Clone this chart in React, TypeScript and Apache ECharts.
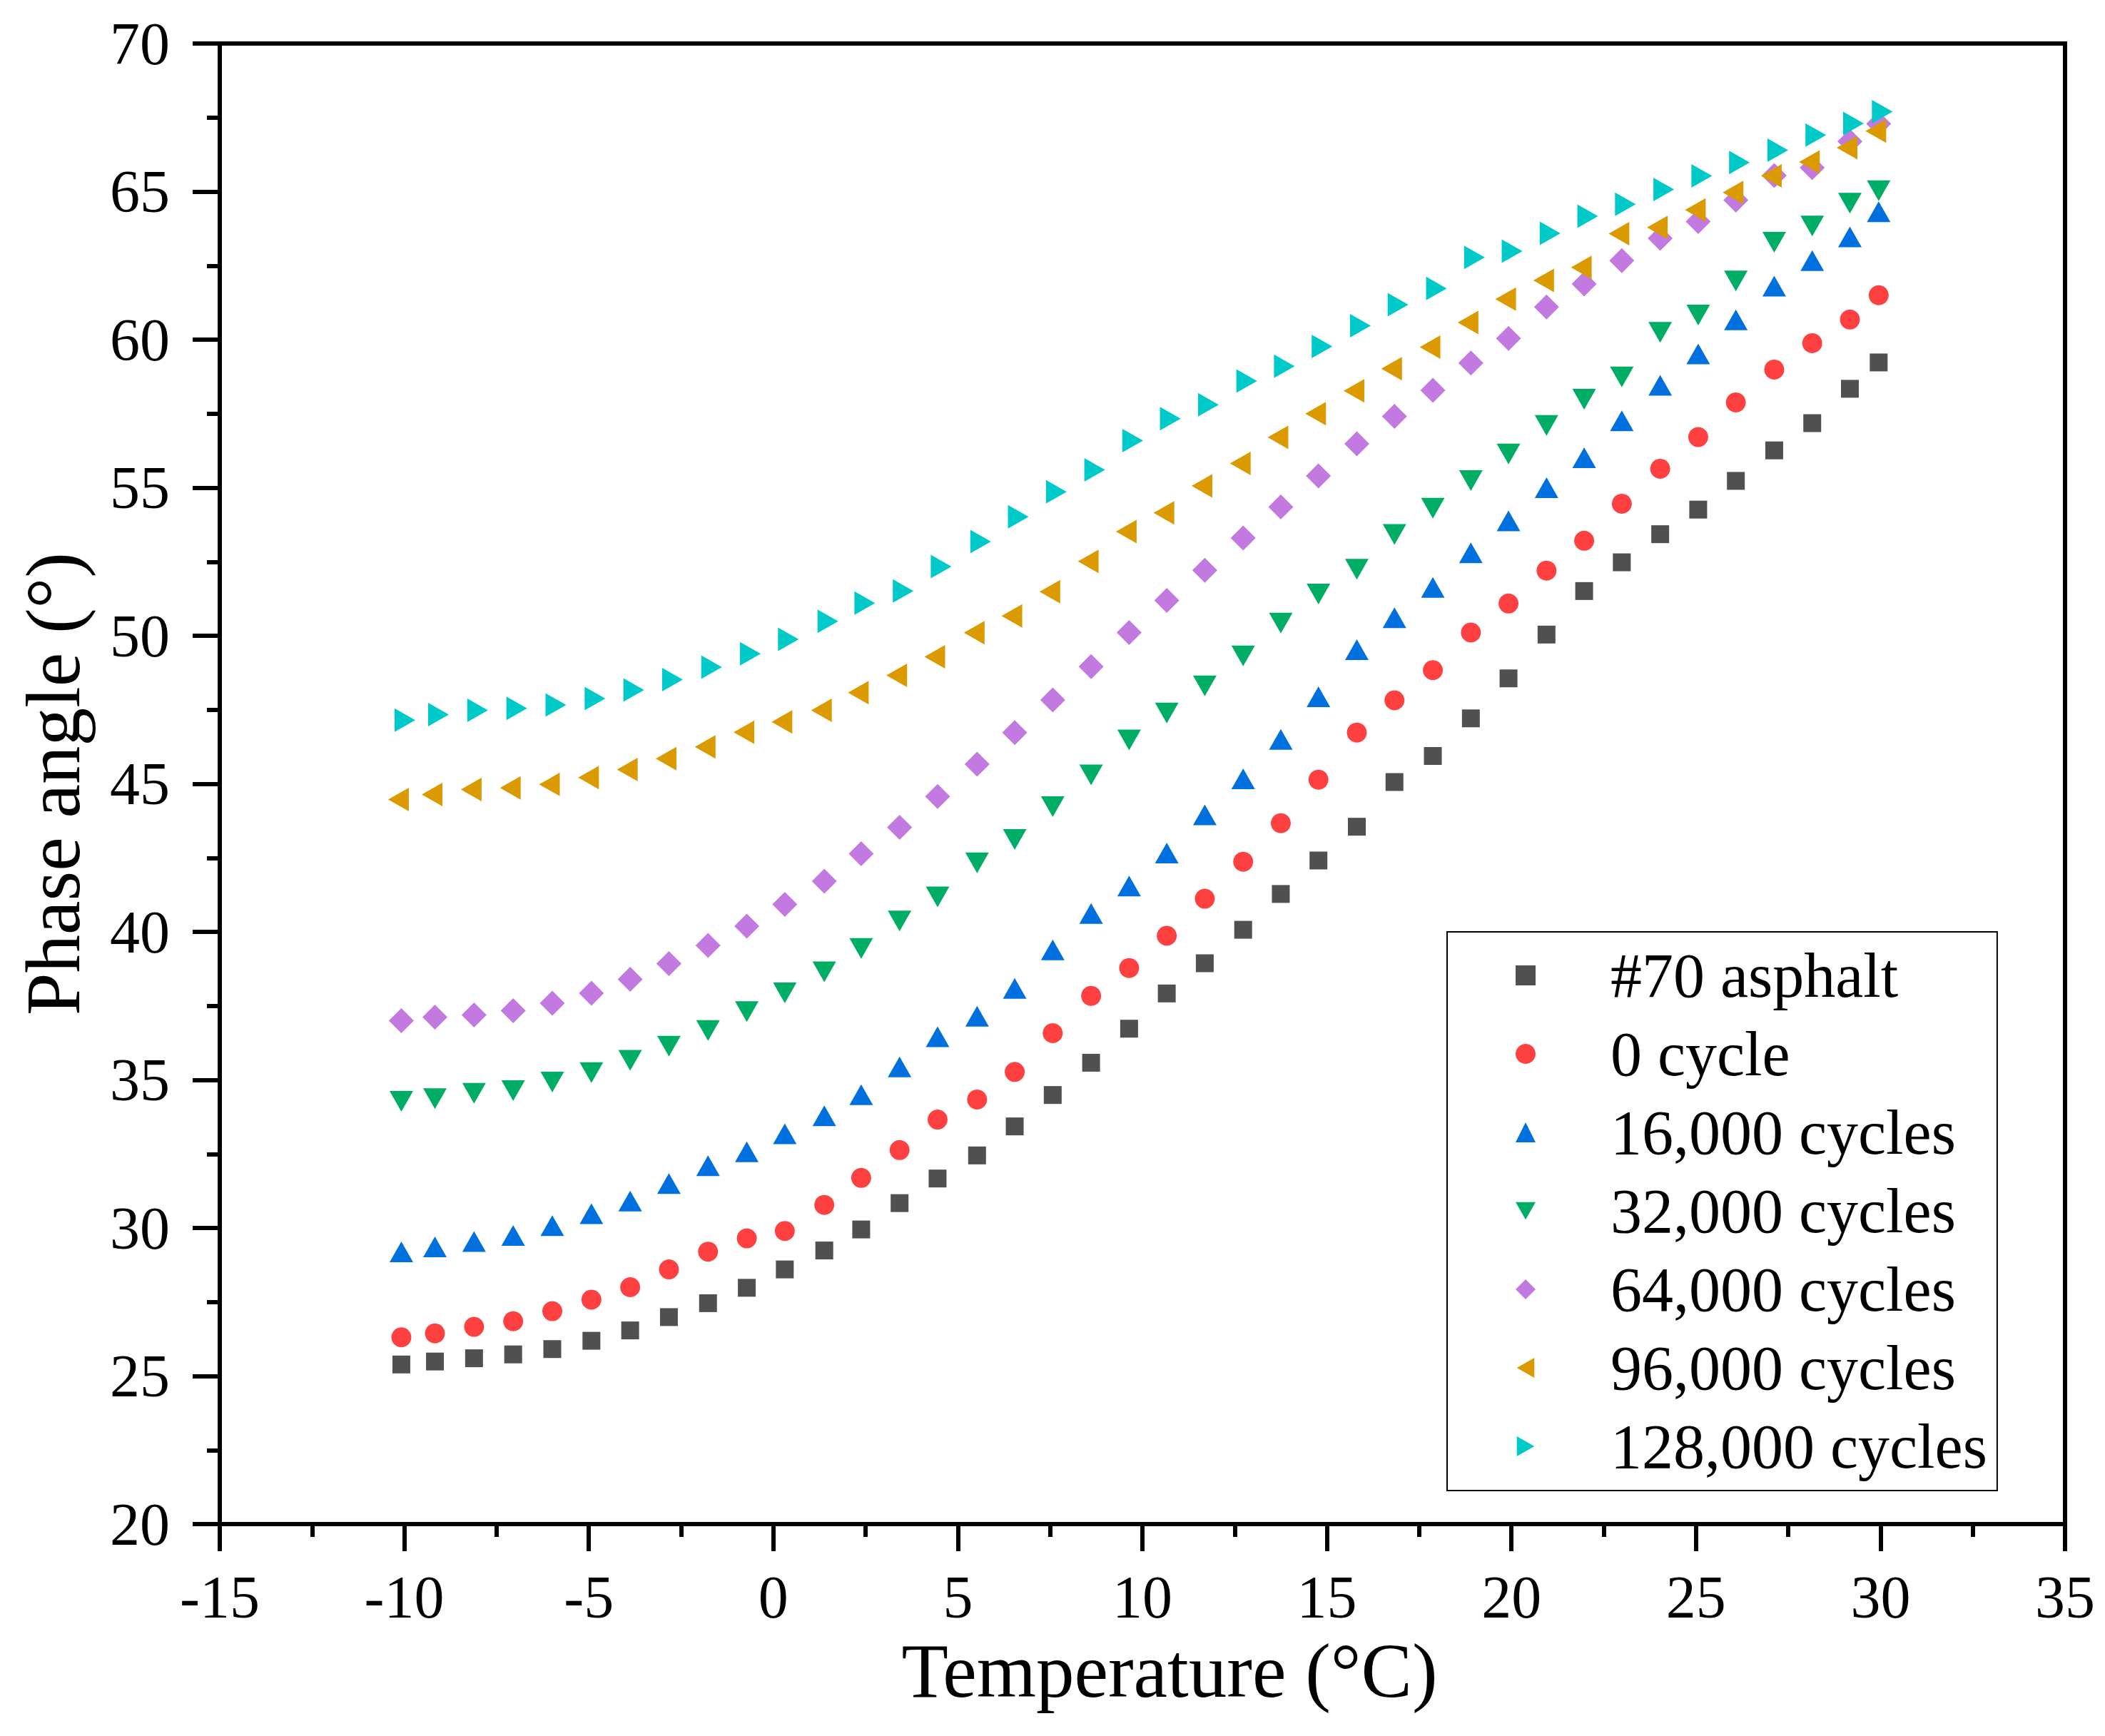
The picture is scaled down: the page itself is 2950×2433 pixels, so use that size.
import React, { useEffect, useRef } from 'react';
import * as echarts from 'echarts';

const temperature = [
  -10.08, -9.17, -8.11, -7.05, -5.99, -4.93, -3.88, -2.83, -1.77, -0.72,
  0.31, 1.38, 2.38, 3.42, 4.45, 5.52, 6.54, 7.57, 8.61, 9.64,
  10.66, 11.69, 12.73, 13.75, 14.77, 15.81, 16.83, 17.87, 18.9, 19.92,
  20.95, 21.97, 22.99, 24.03, 25.06, 26.08, 27.12, 28.15, 29.17, 29.95,
];

const asphalt70 = [
  25.39, 25.49, 25.6, 25.73, 25.91, 26.19, 26.54, 26.99, 27.46, 27.98,
  28.6, 29.24, 29.95, 30.84, 31.67, 32.45, 33.43, 34.49, 35.58, 36.73,
  37.92, 38.94, 40.07, 41.28, 42.41, 43.55, 45.06, 45.94, 47.21, 48.56,
  50.04, 51.51, 52.48, 53.43, 54.26, 55.23, 56.26, 57.18, 58.34, 59.23,
];

const cycles0 = [
  26.31, 26.44, 26.66, 26.85, 27.19, 27.58, 28.0, 28.6, 29.2, 29.65,
  29.9, 30.78, 31.69, 32.63, 33.66, 34.34, 35.27, 36.58, 37.84, 38.78,
  39.87, 41.12, 42.37, 43.67, 45.14, 46.73, 47.82, 48.84, 50.11, 51.09,
  52.2, 53.21, 54.46, 55.64, 56.71, 57.88, 58.99, 59.88, 60.68, 61.5,
];

const cycles16000 = [
  29.19, 29.36, 29.54, 29.75, 30.08, 30.48, 30.91, 31.5, 32.1, 32.57,
  33.18, 33.79, 34.5, 35.44, 36.46, 37.15, 38.09, 39.39, 40.62, 41.55,
  42.66, 43.95, 45.17, 46.5, 47.94, 49.53, 50.61, 51.63, 52.8, 53.88,
  55.0, 56.01, 57.26, 58.46, 59.52, 60.67, 61.81, 62.67, 63.47, 64.32,
];

const cycles32000 = [
  34.28, 34.37, 34.55, 34.64, 34.93, 35.25, 35.66, 36.14, 36.67, 37.31,
  37.94, 38.65, 39.44, 40.37, 41.18, 42.33, 43.12, 44.23, 45.3, 46.48,
  47.39, 48.31, 49.32, 50.43, 51.41, 52.25, 53.42, 54.31, 55.24, 56.14,
  57.1, 57.99, 58.74, 60.25, 60.83, 61.98, 63.29, 63.84, 64.61, 65.03,
];

const cycles64000 = [
  37.0, 37.12, 37.19, 37.34, 37.59, 37.93, 38.4, 38.93, 39.54, 40.19,
  40.93, 41.71, 42.64, 43.53, 44.57, 45.66, 46.73, 47.83, 48.96, 50.11,
  51.19, 52.21, 53.3, 54.35, 55.4, 56.48, 57.41, 58.29, 59.21, 60.04,
  61.1, 61.88, 62.67, 63.42, 63.99, 64.71, 65.54, 65.81, 66.69, 67.29,
];

const cycles96000 = [
  44.47, 44.64, 44.81, 44.86, 44.98, 45.21, 45.48, 45.85, 46.25, 46.74,
  47.09, 47.48, 48.08, 48.66, 49.29, 50.1, 50.67, 51.49, 52.51, 53.52,
  54.15, 55.06, 55.82, 56.7, 57.5, 58.27, 59.02, 59.75, 60.58, 61.37,
  62.0, 62.44, 63.58, 63.79, 64.38, 64.97, 65.53, 66.0, 66.48, 67.04,
];

const cycles128000 = [
  47.15, 47.34, 47.48, 47.55, 47.66, 47.88, 48.17, 48.52, 48.94, 49.39,
  49.88, 50.49, 51.1, 51.51, 52.34, 53.18, 54.02, 54.86, 55.6, 56.59,
  57.33, 57.8, 58.6, 59.1, 59.77, 60.47, 61.18, 61.73, 62.78, 62.99,
  63.59, 64.17, 64.57, 65.07, 65.53, 65.98, 66.4, 66.91, 67.3, 67.7,
];

const seriesNames = [
  '#70 asphalt',
  '0 cycle',
  '16,000 cycles',
  '32,000 cycles',
  '64,000 cycles',
  '96,000 cycles',
  '128,000 cycles',
];

const seriesValues = [asphalt70, cycles0, cycles16000, cycles32000, cycles64000, cycles96000, cycles128000];

const colors = ['#505050', '#FF4040', '#0070DF', '#00AD65', '#C27AE0', '#DB9A00', '#00C9C9'];

const symbols = [
  'rect',
  'circle',
  'triangle',
  'path://M0,0L2,0L1,1.75Z',
  'diamond',
  'path://M0,1L1.75,0L1.75,2Z',
  'path://M0,0L1.75,1L0,2Z',
];

const symbolSizes: any[] = [25, 28, [33, 29], [33, 29], [35, 35], [29, 33], [29, 33]];
const symbolOffsets: any[] = [[0, 0], [0, 0], [0, 0], [0, 0], [0, 0], [-4, 0], [5, 0]];

const FONT = "'Liberation Serif', 'Times New Roman', serif";

export default function App() {
  const ref = useRef<HTMLDivElement>(null);

  useEffect(() => {
    document.body.style.margin = '0';
    const chart = echarts.init(ref.current as HTMLDivElement, null, { renderer: 'svg' });

    const axisCommon = {
      type: 'value' as const,
      axisLine: { show: true, onZero: false, lineStyle: { color: '#000', width: 6 } },
      axisTick: { show: true, inside: false, length: 38, lineStyle: { color: '#000', width: 6 } },
      minorTick: { show: true, splitNumber: 2, length: 18, lineStyle: { color: '#000', width: 6 } },
      splitLine: { show: false },
      minorSplitLine: { show: false },
    };

    const option = {
      animation: false,
      backgroundColor: '#fff',
      grid: {
        left: 308,
        right: 56,
        top: 61,
        bottom: 297,
        show: true,
        borderColor: '#000',
        borderWidth: 6,
        backgroundColor: 'transparent',
      },
      xAxis: {
        ...axisCommon,
        min: -15,
        max: 35,
        interval: 5,
        name: 'Temperature (°C)',
        nameLocation: 'middle',
        nameGap: 152,
        nameTextStyle: { fontFamily: FONT, fontSize: 107, color: '#000', padding: [0, 0, 0, 76] },
        axisLabel: { fontFamily: FONT, fontSize: 84, color: '#000', margin: 60 },
      },
      yAxis: {
        ...axisCommon,
        min: 20,
        max: 70,
        interval: 5,
        name: 'Phase angle (°)',
        nameLocation: 'middle',
        nameGap: 180,
        nameRotate: 90,
        nameTextStyle: { fontFamily: FONT, fontSize: 107, color: '#000' },
        axisLabel: { fontFamily: FONT, fontSize: 84, color: '#000', margin: 70 },
      },
      legend: {
        orient: 'vertical',
        left: 2028,
        top: 1306,
        padding: [17, 14, 18, 96],
        itemWidth: 28,
        itemHeight: 28,
        itemGap: 22,
        selectedMode: false,
        borderColor: '#000',
        borderWidth: 2,
        backgroundColor: '#fff',
        textStyle: { fontFamily: FONT, fontSize: 88, color: '#000', padding: [0, 0, 0, 100] },
        data: seriesNames,
      },
      series: seriesNames.map((name, i) => ({
        name,
        type: 'scatter',
        symbol: symbols[i],
        symbolSize: symbolSizes[i],
        symbolOffset: symbolOffsets[i],
        itemStyle: { color: colors[i], opacity: 1 },
        emphasis: { disabled: true },
        data: temperature.map((t, j) => [t, seriesValues[i][j]]),
      })),
    };

    chart.setOption(option as any);
    return () => chart.dispose();
  }, []);

  return <div ref={ref} style={{ width: 2950, height: 2433 }} />;
}
